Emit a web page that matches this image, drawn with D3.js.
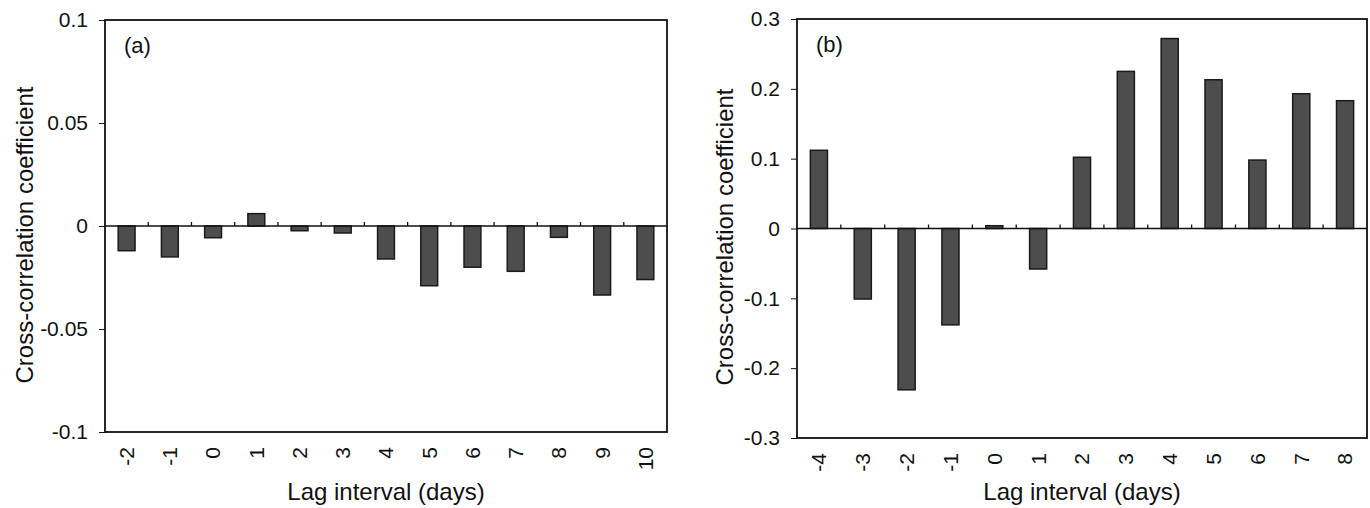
<!DOCTYPE html>
<html>
<head>
<meta charset="utf-8">
<script src="https://cdn.jsdelivr.net/npm/d3@7"></script>
<style>
    body { margin: 0; background: #fff; }
    text { font-family: "Liberation Sans", Arial, sans-serif; fill: #111; }
    .frame { fill: none; stroke: #111; stroke-width: 1.8; }
    .bar { fill: #4d4d4d; stroke: #1a1a1a; stroke-width: 1.5; }
    .zero { stroke: #111; stroke-width: 1.3; }
</style>
</head>
<body>
<script>
//wrap everything in an anonymous function so nothing is global
(function () {

    //panel (a) data
    var lagsA = ["-2", "-1", "0", "1", "2", "3", "4", "5", "6", "7", "8", "9", "10"];
    var coefA = [-0.012, -0.015, -0.0057, 0.006, -0.0023, -0.0034, -0.016, -0.029, -0.020, -0.022, -0.0055, -0.0335, -0.026];
    var ticksA = [-0.1, -0.05, 0, 0.05, 0.1];

    //panel (b) data
    var lagsB = ["-4", "-3", "-2", "-1", "0", "1", "2", "3", "4", "5", "6", "7", "8"];
    var coefB = [0.112, -0.101, -0.231, -0.138, 0.004, -0.058, 0.102, 0.225, 0.272, 0.213, 0.098, 0.193, 0.183];
    var ticksB = [-0.3, -0.2, -0.1, 0, 0.1, 0.2, 0.3];

    var svg = d3.select("body")
        .append("svg")
        .attr("width", 1370)
        .attr("height", 508);

    drawPanel({ left: 105, right: 667, top: 20, bottom: 432, lim: 0.1 }, lagsA, coefA, ticksA, "(a)", 25, 235);
    drawPanel({ left: 797, right: 1367, top: 19, bottom: 438, lim: 0.3 }, lagsB, coefB, ticksB, "(b)", 725, 237);

    //draw one bar panel
    function drawPanel(box, lags, coef, ticks, tag, titleX, titleY) {
        var g = svg.append("g");

        //scales
        var x = d3.scaleBand()
            .domain(lags)
            .range([box.left, box.right])
            .paddingInner(0.61)
            .paddingOuter(0.305);

        var y = d3.scaleLinear()
            .domain([-box.lim, box.lim])
            .range([box.bottom, box.top]);

        var step = x.step();

        //bars
        g.selectAll(".bar")
            .data(coef)
            .enter()
            .append("rect")
            .attr("class", "bar")
            .attr("x", function (d, i) { return x(lags[i]); })
            .attr("width", x.bandwidth())
            .attr("y", function (d) { return y(Math.max(d, 0)); })
            .attr("height", function (d) { return Math.abs(y(d) - y(0)); });

        //zero line with small ticks between categories
        g.append("line")
            .attr("class", "zero")
            .attr("x1", box.left).attr("x2", box.right)
            .attr("y1", y(0)).attr("y2", y(0));

        g.selectAll(".ztick")
            .data(lags.slice(1))
            .enter()
            .append("line")
            .attr("class", "zero")
            .attr("x1", function (d) { return x(d) - step * 0.305; })
            .attr("x2", function (d) { return x(d) - step * 0.305; })
            .attr("y1", y(0))
            .attr("y2", y(0) - 4);

        //y axis
        var yAxis = d3.axisLeft(y)
            .tickValues(ticks)
            .tickSize(6)
            .tickPadding(11)
            .tickFormat(function (d) { return d === 0 ? "0" : String(d); });

        var ax = g.append("g")
            .attr("transform", "translate(" + box.left + ",0)")
            .call(yAxis);
        ax.select(".domain").remove();
        ax.selectAll("line").attr("stroke", "#111");
        ax.selectAll("text")
            .style("font-size", "21px")
            .style("font-family", "Liberation Sans, Arial, sans-serif");

        //x tick labels, rotated
        g.selectAll(".xlab")
            .data(lags)
            .enter()
            .append("text")
            .attr("transform", function (d) {
                return "translate(" + (x(d) + x.bandwidth() / 2) + "," + (box.bottom + 15) + ") rotate(-90)";
            })
            .attr("text-anchor", "end")
            .attr("dy", "0.35em")
            .style("font-size", "21px")
            .text(function (d) { return d; });

        //frame
        g.append("rect")
            .attr("class", "frame")
            .attr("x", box.left)
            .attr("y", box.top)
            .attr("width", box.right - box.left)
            .attr("height", box.bottom - box.top);

        //panel tag
        g.append("text")
            .attr("x", box.left + 19)
            .attr("y", box.top + 33)
            .style("font-size", "22px")
            .text(tag);

        //axis titles
        g.append("text")
            .attr("x", (box.left + box.right) / 2)
            .attr("y", 500)
            .attr("text-anchor", "middle")
            .style("font-size", "24px")
            .text("Lag interval (days)");

        g.append("text")
            .attr("transform", "translate(" + titleX + "," + titleY + ") rotate(-90)")
            .attr("text-anchor", "middle")
            .attr("dy", "0.35em")
            .style("font-size", "24px")
            .text("Cross-correlation coefficient");
    }

})();
</script>
</body>
</html>
